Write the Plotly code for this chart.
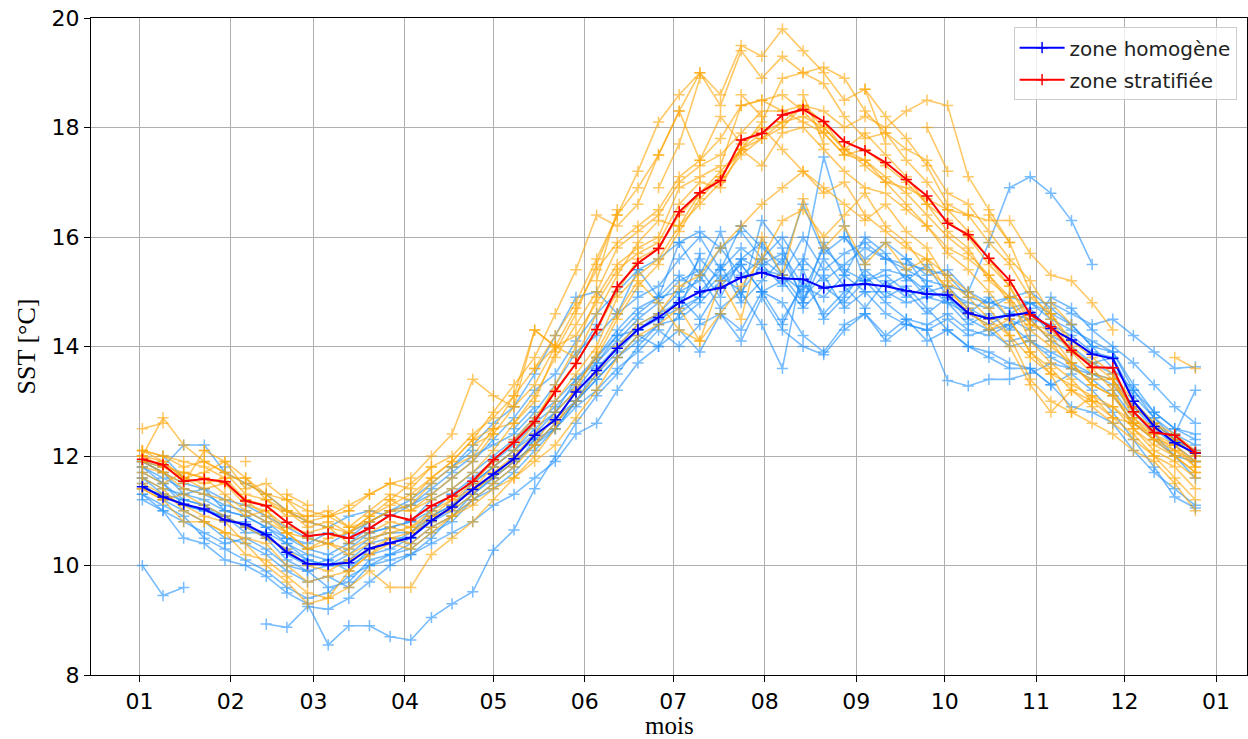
import datetime as dt
import plotly.graph_objects as go

# Weekly SST sampling (52 weeks); first sample on 2 January
first_day = dt.date(2021, 1, 2)

# Mean weekly SST per zone [°C]
mean_homogene = [11.44, 11.25, 11.12, 11.03, 10.83, 10.75, 10.56, 10.24, 10.03, 10.02, 10.05, 10.31,
                 10.41, 10.51, 10.82, 11.07, 11.39, 11.67, 11.95, 12.38, 12.66, 13.17, 13.56, 13.97,
                 14.31, 14.53, 14.80, 15.00, 15.07, 15.26, 15.35, 15.24, 15.23, 15.07, 15.12, 15.14,
                 15.10, 15.02, 14.96, 14.94, 14.61, 14.51, 14.56, 14.62, 14.33, 14.12, 13.86, 13.78,
                 13.00, 12.54, 12.24, 12.05]
mean_stratifiee = [11.94, 11.84, 11.54, 11.58, 11.53, 11.18, 11.09, 10.79, 10.54, 10.58, 10.50, 10.68,
                   10.92, 10.83, 11.09, 11.27, 11.54, 11.93, 12.25, 12.63, 13.18, 13.69, 14.31, 15.09,
                   15.52, 15.79, 16.46, 16.81, 17.03, 17.77, 17.89, 18.23, 18.33, 18.11, 17.74, 17.58,
                   17.36, 17.05, 16.75, 16.25, 16.04, 15.61, 15.21, 14.58, 14.36, 13.93, 13.62, 13.61,
                   12.81, 12.43, 12.38, 12.06]

N = None

# Individual years, homogeneous zone
homog_1 = [10.0, 9.45, 9.6, N, N, N, 8.93, 8.87, 9.25, 9.2, 9.4, 9.7,
           10.0, 10.2, 10.5, 10.9, 11.2, 11.4, 11.7, 12.1, 12.5, 13.0, 13.4, 13.8,
           14.2, 14.0, 14.6, 14.9, 15.5, 14.8, 15.2, 15.6, 14.9, 15.3, 14.7, 15.0,
           14.6, 14.4, 14.3, 14.5, 14.2, 14.3, 14.0, 14.1, 13.9, 13.7, 13.5, 13.4, 12.9, 12.6, 12.3, 12.1]
homog_2 = [11.6, 11.4, 11.3, 11.2, 11.0, 10.9, 10.7, 10.4, 10.2, 10.1, 10.3, 10.6,
           10.7, 10.8, 11.2, 11.4, 11.7, 12.0, 12.3, 12.7, 13.0, 13.4, 13.7, 14.2,
           14.6, 14.9, 15.3, 15.0, 15.4, 15.8, 15.5, 15.1, 15.6, 15.2, 15.5, 15.8,
           15.6, 15.4, 15.2, 15.1, 15.0, 15.9, 16.9, 17.1, 16.8, 16.3, 15.5, N, N, N, N, N]
homog_3 = [11.3, 11.0, 10.5, 10.4, 10.1, 10.0, 9.8, 9.5, 9.3, 8.55, 8.9, 8.9,
           8.7, 8.64, 9.05, 9.3, 9.52, 10.28, 10.65, 11.4, 12.0, 12.6, 13.1, 13.5,
           14.0, 14.4, 14.9, 14.5, 15.1, 15.5, 15.0, 14.4, 15.2, 14.6, 15.0, 15.3,
           14.9, 15.1, 14.7, 14.3, 14.0, 13.8, 13.6, 13.6, 13.3, 13.5, 13.2, 12.8, 12.3, 11.8, 11.25, 11.05]
homog_4 = [11.9, 11.8, 12.2, 12.2, 11.7, 11.5, 11.3, 11.0, 10.8, 10.7, 10.9, 11.0,
           10.9, 11.1, 11.4, 11.7, 12.0, 12.2, 12.4, 12.8, 13.3, 13.9, 14.2, 14.6,
           14.9, 15.1, 15.6, 16.0, 15.4, 16.2, 15.8, 15.5, 16.6, 15.7, 16.0, 15.6,
           15.9, 15.6, 15.3, 15.4, 15.0, 14.8, 14.9, 15.0, 14.7, 14.4, 14.0, 13.6, 13.2, 12.8, 12.5, 12.4]
homog_5 = [11.7, 11.5, 11.1, 11.0, 10.9, 10.6, 10.6, 10.2, 10.0, 10.1, 9.9, 10.3,
           10.4, 10.6, 10.9, 11.1, 11.5, 11.8, 12.1, 12.4, 12.8, 13.2, 13.7, 14.1,
           14.5, 14.8, 15.2, 15.4, 14.9, 15.6, 15.9, 15.3, 14.8, 15.6, 15.1, 14.7,
           15.2, 14.9, 15.1, 14.8, 14.4, 14.6, 14.3, 14.7, 14.2, 14.0, 13.7, 13.8, 13.0, 12.6, 12.3, 12.0]
homog_6 = [11.5, 11.2, 11.0, 10.8, 10.5, 10.4, 10.2, 9.9, 9.7, 9.8, 9.6, 10.0,
           10.2, 10.3, 10.6, 10.8, 11.2, 11.5, 11.8, 12.3, 12.5, 13.0, 13.6, 14.0,
           14.4, 14.6, 14.8, 15.3, 14.7, 15.0, 14.4, 13.6, 15.5, 17.46, 16.2, 15.2,
           14.8, 14.5, 14.4, 14.6, 14.3, 14.2, 14.4, 14.1, 13.8, 13.6, 13.5, 13.3, 12.8, 12.4, 12.0, 11.6]
homog_7 = [11.8, 11.6, 11.4, 11.3, 11.1, 11.0, 10.8, 10.5, 10.3, 10.2, 10.4, 10.6,
           10.7, 10.8, 11.0, 11.3, 11.6, 11.9, 12.2, 12.6, 12.9, 13.3, 13.8, 14.3,
           14.7, 14.9, 15.0, 15.2, 15.8, 15.3, 15.6, 16.0, 15.4, 14.5, 14.9, 15.4,
           15.1, 15.3, 14.9, 14.8, 14.6, 14.4, 14.6, 14.5, 14.4, 14.2, 13.9, 13.8, 13.1, 12.7, 12.3, 12.1]
homog_8 = [11.2, 11.0, 10.8, 10.6, 10.4, 10.5, 10.3, 10.0, 9.9, 9.6, 9.7, 10.1,
           10.2, 10.4, 10.7, 10.9, 11.3, 11.6, 11.9, 12.2, 12.5, 12.9, 13.2, 13.6,
           13.9, 14.3, 14.0, 14.4, 14.6, 14.3, 15.0, 14.8, 14.2, 13.9, 14.4, 14.6,
           14.1, 14.4, 14.3, 13.38, 13.28, 13.40, 13.40, 13.51, 13.69, 13.6, 13.4, 13.1, 12.6, 12.3, 12.0, 11.9]
homog_9 = [11.6, 11.3, 11.2, 11.1, 10.8, 10.8, 10.5, 10.3, 10.1, 10.0, 10.2, 10.5,
           10.6, 10.6, 11.0, 11.3, 11.5, 11.8, 12.1, 12.5, 12.8, 13.4, 13.8, 14.2,
           14.3, 14.6, 15.0, 15.6, 15.2, 15.6, 15.4, 15.3, 15.0, 15.8, 15.4, 15.2,
           15.4, 15.3, 15.0, 15.1, 14.7, 14.5, 14.6, 14.8, 14.6, 14.4, 14.0, 13.9, 13.2, 12.7, 12.4, 12.2]
homog_10 = [11.9, 11.7, 11.5, 11.4, 11.2, 11.1, 10.9, 10.7, 10.5, 10.4, 10.6, 10.8,
            11.0, 11.1, 11.3, 11.6, 11.9, 12.3, 12.7, 13.2, 13.5, 14.1, 14.6, 15.0,
            15.4, 15.6, 15.9, 16.1, 15.8, 16.1, 15.6, 15.3, 16.0, 15.4, 15.7, 15.9,
            15.6, 15.5, 15.4, 15.3, 14.9, 14.8, 14.7, 14.8, 14.5, 14.3, 14.1, 13.9, 13.3, 12.8, 12.5, 12.3]
homog_11 = [11.4, 11.3, 11.1, 11.0, 10.9, 10.7, 10.6, 10.4, 10.1, 10.0, 10.1, 10.4,
            10.5, 10.5, 10.9, 11.1, 11.4, 11.6, 12.0, 12.3, 12.7, 13.0, 13.5, 13.9,
            14.3, 14.5, 14.7, 14.9, 15.3, 15.0, 15.5, 15.7, 15.1, 14.9, 15.3, 15.0,
            15.0, 14.8, 14.9, 15.0, 14.8, 14.7, 14.9, 14.8, 14.8, 14.6, 14.4, 14.5, 14.2, 13.9, 13.6, 13.63]
homog_12 = [11.8, 11.5, 11.2, 11.1, 10.9, 10.7, 10.5, 10.1, 9.9, 10.0, 10.0, 10.2,
            10.3, 10.5, 10.8, 11.0, 11.3, 11.6, 11.9, 12.2, 12.6, 13.0, 13.4, 13.8,
            14.1, 14.4, 14.5, 14.8, 15.2, 15.5, 15.0, 15.2, 14.7, 15.1, 14.8, 15.2,
            15.3, 15.0, 14.6, 14.9, 14.5, 14.3, 14.4, 14.5, 14.1, 13.9, 13.7, 13.5, 12.9, 12.5, 12.2, 11.9]
homog_13 = [11.9, 11.7, 11.3, 11.4, 11.0, 10.9, 10.7, 10.5, 10.4, 10.6, 10.5, 10.8,
            11.0, 11.2, 11.5, 11.8, 12.2, 12.6, 12.9, 13.5, 14.2, 14.9, 15.0, 14.6,
            15.4, 14.9, 15.9, 15.3, 16.1, 14.9, 16.3, 15.8, 14.8, 15.9, 15.3, 16.0,
            15.7, 15.2, 15.5, 14.9, 14.6, 14.9, 14.5, 14.3, 14.9, 14.7, 14.3, 14.0, 13.7, 13.3, 12.9, 12.6]
homog_14 = [11.3, 11.1, 10.9, 10.5, 10.3, 10.1, 9.9, 9.6, 9.4, 9.5, 9.8, 10.0,
            10.1, 10.2, 10.4, 10.6, 10.8, 11.1, 11.3, 11.6, 11.9, 12.4, 12.6, 13.2,
            13.7, 14.0, 14.3, 13.9, 14.6, 14.1, 14.9, 14.3, 14.0, 13.85, 14.3, 14.6,
            14.2, 14.5, 14.1, 14.3, 14.0, 13.9, 13.7, 13.6, 13.3, 12.9, 12.8, 12.6, 12.1, 11.7, 11.4, 11.1]
homog_15 = [N, 12.0, 11.6, N, 11.8, N, 11.1, N, 10.6, N, 10.4, 10.7,
            N, 11.3, N, 11.8, 12.1, N, 12.5, 12.9, N, 13.8, 14.4, N,
            15.0, N, 14.6, 15.7, N, 16.2, N, 14.5, 15.1, N, 16.0, 15.5,
            N, 15.6, 15.1, N, 14.6, N, 14.1, 14.2, N, 13.9, N, 13.2, 12.7, N, 12.4, 13.2]

# Individual years, stratified zone
strat_1 = [12.1, 12.0, 11.8, 11.9, 11.7, 11.5, 11.3, 11.2, 11.0, 10.9, 11.1, 11.3,
           11.5, 11.4, 11.8, 12.0, 12.4, 12.7, 13.1, 13.6, 14.2, 14.8, 15.6, 16.4,
           16.9, 17.5, 18.3, 19.0, 18.6, 19.5, 19.3, 19.8, 19.4, 19.0, 18.5, 18.7,
           18.2, 17.8, 17.3, 16.6, 16.4, 15.9, 15.5, 14.9, 14.6, 14.1, 13.8, 13.5, 13.0, 12.6, 12.4, 12.1]
strat_2 = [11.6, 11.4, 11.0, 10.8, 10.6, 10.2, 10.1, 9.8, 9.5, 9.4, 9.9, 10.2,
           10.5, 10.4, 10.7, 10.9, 11.2, 11.5, 11.8, 12.2, 12.6, 13.0, 13.5, 14.0,
           14.4, 14.6, 15.1, 15.3, 15.8, 16.2, 16.6, 16.9, 17.2, 16.9, 16.6, 16.3,
           16.6, 16.1, 15.8, 15.2, 14.9, 14.5, 14.2, 13.4, 13.0, 12.8, 12.6, 12.4, 12.1, 11.9, 11.5, 11.0]
strat_3 = [12.0, 12.7, 12.2, 11.9, 11.7, 11.3, 11.2, 11.0, 10.7, 10.8, 10.6, 10.9,
           11.2, 11.0, 11.3, 11.6, 11.9, 12.4, 12.9, 13.3, 14.0, 14.7, 15.4, 15.9,
           16.2, 16.5, 17.1, 17.4, 17.8, 18.4, 18.5, 18.3, 18.4, 18.0, 17.6, 17.9,
           17.5, 17.1, 16.6, 16.1, 15.8, 15.2, 14.9, 14.1, 13.7, 13.4, 13.0, 12.9, 12.5, 12.1, 11.9, 11.6]
strat_4 = [11.8, 11.7, 11.5, 12.1, 11.9, 11.6, 11.2, 10.9, 10.9, 11.0, 10.7, 10.8,
           11.0, 11.1, 11.5, 11.8, 12.0, 12.5, 13.1, 14.3, 14.0, 13.8, 14.6, 15.3,
           15.9, 16.3, 16.2, 16.8, 17.2, 17.6, 18.1, 18.9, 19.0, 18.8, 18.2, 17.8,
           17.9, 17.6, 17.4, 16.8, 16.6, 16.1, 15.6, 15.2, 14.6, 14.0, 13.6, 13.2, 12.5, 12.2, 12.0, 11.7]
strat_5 = [12.1, 11.9, 11.6, 11.5, 11.6, 11.2, 10.9, 10.6, 10.5, 10.4, 10.3, 10.5,
           10.6, 10.7, 10.9, 11.0, 11.3, 11.7, 12.0, 12.4, 13.0, 13.5, 14.0, 14.9,
           15.3, 15.6, 16.2, 16.6, 17.0, 17.5, 17.8, 18.1, 18.4, 18.3, 18.0, 18.2,
           18.0, 18.3, 18.5, 18.4, 17.1, 16.5, 15.9, 15.0, 14.5, 13.9, 13.5, 13.4, 12.9, 12.6, 12.3, 12.0]
strat_6 = [11.4, 11.2, 10.8, 10.8, 10.6, 10.5, 10.4, 10.0, 9.7, 9.8, 9.9, 10.2,
           10.4, 10.3, 10.6, 10.9, 11.1, 11.4, 11.6, 11.9, 12.2, 12.7, 13.2, 13.8,
           14.2, 14.4, 14.7, 14.1, 14.6, 15.1, 15.6, 16.3, 16.5, 16.0, 16.4, 16.8,
           16.2, 15.9, 15.4, 15.1, 14.6, 14.4, 14.0, 13.3, 12.8, 13.2, 13.0, 12.7, 12.6, 12.4, 12.2, N]
strat_7 = [12.0, 11.9, 11.6, 11.7, 11.9, 11.4, 11.5, 11.2, 10.8, 10.9, 10.7, 11.0,
           11.3, 11.2, 11.6, 11.9, 12.3, 12.5, 12.6, 13.1, 13.8, 14.4, 15.0, 15.8,
           16.1, 16.4, 17.0, 17.3, 17.5, 17.9, 18.3, 18.3, 18.1, 17.9, 17.5, 17.4,
           17.1, 16.8, 16.4, 16.0, 15.7, 15.3, 14.8, 14.3, 14.0, 13.7, 13.3, 13.1, 12.7, 12.3, 12.1, 11.9]
strat_8 = [11.5, 11.3, 11.1, 10.9, 10.8, 10.4, 10.0, 9.7, 9.3, 9.4, 9.6, 9.9,
           9.6, 9.6, 10.2, 10.5, 10.8, 11.2, 11.6, 12.0, 12.5, 13.3, 13.8, 14.5,
           15.1, 15.5, 16.1, 16.7, 17.1, 17.6, 17.8, 18.0, 18.4, 18.1, 17.6, 17.4,
           17.0, 16.6, 16.2, 15.7, 15.4, 15.0, 14.5, 13.9, 13.6, 13.2, 12.9, 12.6, 12.3, 12.0, 11.8, 11.4]
strat_9 = [12.0, 11.8, 11.7, 11.6, 11.5, 11.2, 11.1, 11.0, 10.9, 10.9, 11.0, 11.3,
           11.5, 11.6, 12.0, 12.4, 13.4, 13.1, 12.9, 14.3, 14.0, 14.2, 14.8, 15.4,
           15.7, 15.9, 16.6, 17.0, 16.9, 17.6, 17.3, 17.9, 18.0, 17.6, 17.2, 16.9,
           16.8, 16.5, 16.2, 15.8, 15.6, 15.3, 14.9, 14.4, 14.3, 13.9, 13.7, 13.4, 12.8, 12.5, 12.3, 12.0]
strat_10 = [12.1, 12.0, 11.9, 11.8, 11.6, 11.6, 11.3, 11.0, 10.8, 10.7, 10.6, 10.8,
            11.0, 11.0, 11.2, 11.4, 11.7, 12.1, 12.6, 13.0, 13.9, 14.6, 15.5, 16.4,
            17.2, 18.1, 18.6, 19.0, 18.4, 19.4, 18.9, 19.3, 19.0, 19.1, 18.9, 18.3,
            17.9, 17.4, 17.0, 16.5, 16.1, 15.6, 15.1, 14.4, 14.2, 13.7, 13.3, 13.1, 12.6, 12.3, 12.2, 11.9]
strat_11 = [11.9, 11.8, 11.6, 11.4, 11.5, 11.1, 11.0, 10.6, 10.3, 10.4, 10.2, 10.4,
            10.7, 10.6, 10.9, 11.2, 11.5, 11.9, 12.3, 12.7, 13.2, 13.7, 14.3, 15.0,
            15.6, 15.8, 16.4, 16.8, 17.1, 17.6, 17.9, 18.1, 18.2, 18.0, 17.6, 17.3,
            17.0, 16.9, 16.7, 16.5, 16.4, 16.3, 16.3, 15.7, 15.3, 15.2, 14.8, 14.3, N, N, 13.8, 13.6]
strat_12 = [11.9, 11.7, 11.4, 11.3, 11.2, 10.9, 11.0, 10.7, 10.6, 10.7, 10.4, 10.6,
            10.8, 10.7, 11.0, 11.2, 11.4, 11.8, 12.1, 12.6, 13.3, 14.0, 14.9, 15.5,
            15.8, 16.0, 16.9, 17.1, 17.3, 18.4, 18.5, 18.6, 18.3, 17.9, 17.5, 17.6,
            17.3, 17.0, 16.6, 16.3, 16.0, 15.5, 15.1, 14.5, 14.1, 13.6, 13.4, 13.4, 12.7, 12.4, 12.1, 11.8]
strat_13 = [11.7, 11.5, 11.7, 11.6, 11.3, 11.0, 10.8, 10.6, 10.3, 10.5, 10.6, 10.9,
            11.1, 11.3, 11.6, 11.9, 12.3, 12.8, 13.3, 13.8, 14.6, 15.4, 16.4, 16.2,
            16.6, 17.5, 18.3, 17.4, 18.2, 17.7, 18.0, 17.6, 17.2, 16.8, 17.0, 16.4,
            16.1, 15.8, 15.6, 15.3, 15.0, 14.7, 14.2, 13.8, 13.5, 13.3, 13.1, 12.9, 12.6, 12.3, 12.0, 11.7]
strat_14 = [11.4, 11.2, 11.3, 11.1, 10.9, 10.7, 10.5, 10.3, 10.0, 9.9, 10.1, 10.3,
            10.5, 10.6, 10.8, 11.1, 11.4, 11.6, 11.9, 12.2, 12.8, 13.2, 13.9, 14.6,
            15.2, 14.8, 14.3, 14.1, 15.2, 14.5, 16.0, 15.3, 16.7, 15.8, 16.2, 15.5,
            15.9, 15.4, 15.6, 15.0, 14.7, 14.3, 14.5, 13.9, 13.5, 12.8, 13.1, 12.7, 12.4, 12.0, 11.6, 11.2]
strat_15 = [12.5, 12.6, N, 12.1, N, 11.9, N, 11.3, 11.1, N, 11.0, N,
            11.2, 11.5, 11.8, N, 12.2, 12.4, N, 13.6, 14.0, N, 15.2, 16.5,
            N, 16.9, 17.7, 18.9, N, 18.6, 18.2, N, 18.6, 17.7, N, 18.7,
            17.7, N, 18.0, 17.2, N, 16.4, 15.9, N, 14.8, 14.4, N, 13.3, 12.9, N, 12.2, 11.8]

homog_years = [homog_1, homog_2, homog_3, homog_4, homog_5, homog_6, homog_7, homog_8,
               homog_9, homog_10, homog_11, homog_12, homog_13, homog_14, homog_15]
strat_years = [strat_1, strat_2, strat_3, strat_4, strat_5, strat_6, strat_7, strat_8,
               strat_9, strat_10, strat_11, strat_12, strat_13, strat_14, strat_15]

for s in homog_years + strat_years:
    assert len(s) == len(mean_homogene), len(s)

weeks = [first_day + dt.timedelta(days=7 * k) for k in range(len(mean_homogene))]

fig = go.Figure()


def add_series(values, color, opacity, width, msize, name=None, legend=False, group=None):
    fig.add_trace(go.Scatter(
        x=weeks, y=values, mode="lines+markers", name=name, showlegend=legend,
        legendgroup=group, opacity=opacity, connectgaps=False,
        line=dict(color=color, width=width),
        marker=dict(symbol="cross-thin", size=msize, line=dict(color=color, width=1.5)),
    ))


for s in homog_years:
    add_series(s, "#1E90FF", 0.6, 1.6, 8)
for s in strat_years:
    add_series(s, "#FFA500", 0.6, 1.6, 8)

add_series(mean_homogene, "#0000FF", 1.0, 2.0, 8, "zone homogène", True, "h")
add_series(mean_stratifiee, "#FF0000", 1.0, 2.0, 8, "zone stratifiée", True, "s")

tick_font = dict(family="DejaVu Sans", size=22, color="black")
title_font = dict(family="Liberation Serif", size=26, color="black")

fig.update_layout(
    width=1248, height=739,
    margin=dict(l=91, r=1, t=18, b=64),
    paper_bgcolor="white", plot_bgcolor="white",
    legend=dict(
        x=0.991, y=0.986, xanchor="right", yanchor="top",
        bgcolor="rgba(255,255,255,0.8)", bordercolor="#cccccc", borderwidth=1,
        font=dict(family="DejaVu Sans", size=20, color="#222222"),
        itemwidth=45, tracegroupgap=3,
    ),
    # x-axis title placed just below the month labels
    annotations=[dict(
        text="mois", xref="paper", yref="paper", x=0.5, y=-0.0995,
        xanchor="center", yanchor="bottom", showarrow=False, borderpad=0,
        font=dict(family="Liberation Serif", size=25, color="black"),
    )],
)

fig.update_xaxes(
    type="date",
    range=["2020-12-15 14:00", "2022-01-11 12:00"],
    tick0="2021-01-01", dtick="M1", tickformat="%m",
    showgrid=True, gridcolor="#b0b0b0", gridwidth=1,
    showline=True, linecolor="black", linewidth=1.2, mirror=True,
    ticks="outside", ticklen=6, tickcolor="black",
    tickfont=tick_font,
    zeroline=False, automargin=False,
)
fig.update_yaxes(
    range=[8, 20], dtick=2, tick0=8,
    showgrid=True, gridcolor="#b0b0b0", gridwidth=1,
    showline=True, linecolor="black", linewidth=1.2, mirror=True,
    ticks="outside", ticklen=6, tickcolor="black",
    tickfont=tick_font,
    title=dict(text="SST [°C]", font=title_font, standoff=8),
    zeroline=False, automargin=False,
)

fig.write_html("out.html")
